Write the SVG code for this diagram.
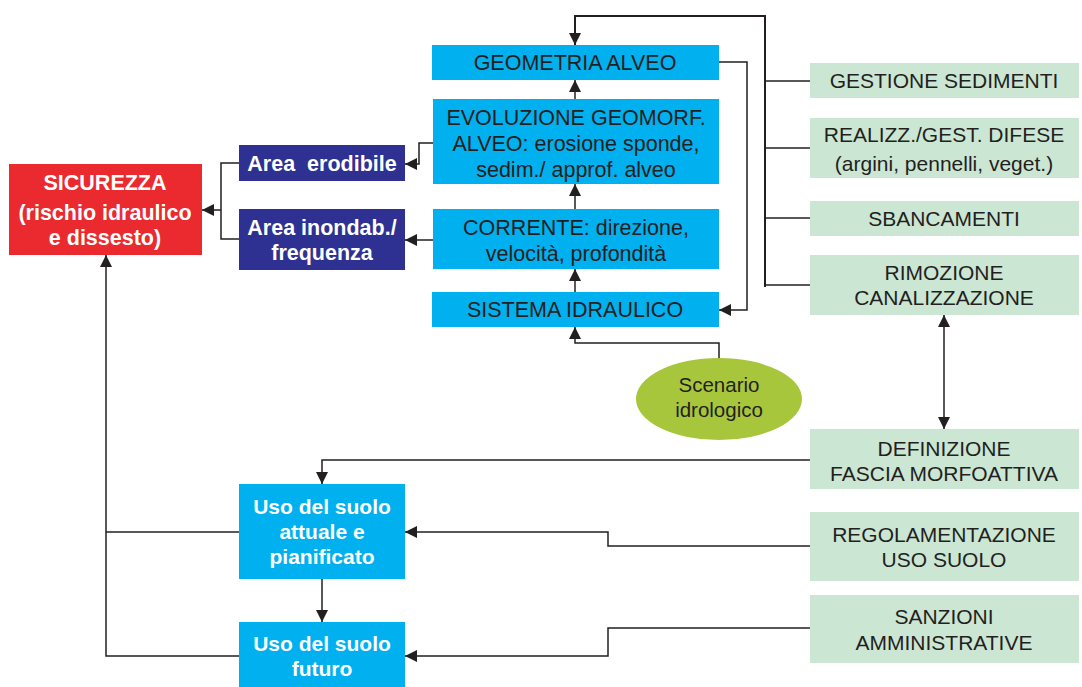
<svg xmlns="http://www.w3.org/2000/svg" width="1082" height="687" viewBox="0 0 1082 687">
<style>
.cy{fill:#00b0ef}
.db{fill:#2e3192}
.gr{fill:#cce6d4}
.tx{font-family:"Liberation Sans",Arial,sans-serif;fill:#231f20;text-anchor:middle}
.t20{font-size:21.5px}
.t19{font-size:21px}
.sc{font-size:20.5px}
.wb{font-family:"Liberation Sans",Arial,sans-serif;fill:#ffffff;font-weight:bold;text-anchor:middle;font-size:21.5px}
.wn{font-family:"Liberation Sans Narrow","Liberation Sans",Arial,sans-serif;fill:#ffffff;font-weight:bold;text-anchor:middle;font-size:21px}
.ln{fill:none;stroke:#231f20;stroke-width:1.5}
.lt{fill:none;stroke:#231f20;stroke-width:2}
</style>
<defs>
<marker id="ah" viewBox="0 0 10 10" refX="10" refY="5" markerWidth="12" markerHeight="12" markerUnits="userSpaceOnUse" orient="auto-start-reverse">
<path d="M0,0 L10,5 L0,10 z" fill="#231f20"/>
</marker>
</defs>

<g id="connectors">
<path class="lt" d="M765,287 L765,16 L575,16 L575,45" marker-end="url(#ah)"/>
<path class="ln" d="M765,81 L810,81"/>
<path class="ln" d="M765,148 L810,148"/>
<path class="ln" d="M765,218 L810,218"/>
<path class="ln" d="M765,285 L810,285"/>
<path class="ln" d="M719,62 L747,62 L747,310 L719,310" marker-end="url(#ah)"/>
<path class="ln" d="M575,99 L575,80" marker-end="url(#ah)"/>
<path class="ln" d="M575,209 L575,184" marker-end="url(#ah)"/>
<path class="ln" d="M575,292 L575,269" marker-end="url(#ah)"/>
<path class="ln" d="M719,359 L719,343 L575,343 L575,327" marker-end="url(#ah)"/>
<path class="ln" d="M433,143 L419,143 L419,164 L405,164" marker-end="url(#ah)"/>
<path class="ln" d="M433,240 L405,240" marker-end="url(#ah)"/>
<path class="ln" d="M239,163 L221,163 L221,239 L239,239"/>
<path class="ln" d="M221,210 L202,210" marker-end="url(#ah)"/>
<path class="ln" d="M944,429 L944,315" marker-start="url(#ah)" marker-end="url(#ah)"/>
<path class="ln" d="M810,460 L322,460 L322,484" marker-end="url(#ah)"/>
<path class="ln" d="M810,546 L608,546 L608,532 L405,532" marker-end="url(#ah)"/>
<path class="ln" d="M810,628 L608,628 L608,656 L405,656" marker-end="url(#ah)"/>
<path class="ln" d="M322,579 L322,622" marker-end="url(#ah)"/>
<path class="ln" d="M239,532 L106,532"/>
<path class="ln" d="M239,656 L106,656 L106,255" marker-end="url(#ah)"/>
</g>

<g id="geometria">
<rect class="cy" x="432" y="45" width="287" height="35"/>
<text class="tx t20" x="575" y="70">GEOMETRIA ALVEO</text>
</g>
<g id="evoluzione">
<rect class="cy" x="433" y="99" width="286" height="85"/>
<text class="tx t20" x="576" y="125">EVOLUZIONE GEOMORF.</text>
<text class="tx t20" x="576" y="151">ALVEO: erosione sponde,</text>
<text class="tx t20" x="576" y="177">sedim./ approf. alveo</text>
</g>
<g id="corrente">
<rect class="cy" x="433" y="209" width="286" height="60"/>
<text class="tx t20" x="576" y="235">CORRENTE: direzione,</text>
<text class="tx t20" x="576" y="261">velocità, profondità</text>
</g>
<g id="sistema">
<rect class="cy" x="432" y="292" width="287" height="35"/>
<text class="tx t20" x="575" y="317">SISTEMA IDRAULICO</text>
</g>
<g id="scenario">
<ellipse cx="719" cy="399" rx="83" ry="41" fill="#a8c63c"/>
<text class="tx sc" x="719" y="392">Scenario</text>
<text class="tx sc" x="719" y="417">idrologico</text>
</g>

<g id="gestione">
<rect class="gr" x="810" y="63" width="269" height="35"/>
<text class="tx t19" x="944" y="88">GESTIONE SEDIMENTI</text>
</g>
<g id="realizz">
<rect class="gr" x="810" y="118" width="269" height="60"/>
<text class="tx t19" x="944" y="142">REALIZZ./GEST. DIFESE</text>
<text class="tx t19" x="944" y="171">(argini, pennelli, veget.)</text>
</g>
<g id="sbancamenti">
<rect class="gr" x="810" y="201" width="269" height="35"/>
<text class="tx t19" x="944" y="226">SBANCAMENTI</text>
</g>
<g id="rimozione">
<rect class="gr" x="810" y="255" width="269" height="60"/>
<text class="tx t19" x="944" y="280">RIMOZIONE</text>
<text class="tx t19" x="944" y="305">CANALIZZAZIONE</text>
</g>
<g id="definizione">
<rect class="gr" x="810" y="429" width="269" height="60"/>
<text class="tx t19" x="944" y="456">DEFINIZIONE</text>
<text class="tx t19" x="944" y="481">FASCIA MORFOATTIVA</text>
</g>
<g id="regolamentazione">
<rect class="gr" x="810" y="512" width="269" height="69"/>
<text class="tx t19" x="944" y="542">REGOLAMENTAZIONE</text>
<text class="tx t19" x="944" y="567">USO SUOLO</text>
</g>
<g id="sanzioni">
<rect class="gr" x="810" y="595" width="269" height="68"/>
<text class="tx t19" x="944" y="624">SANZIONI</text>
<text class="tx t19" x="944" y="650">AMMINISTRATIVE</text>
</g>

<g id="sicurezza">
<rect x="9" y="164" width="193" height="91" fill="#ea2a2f"/>
<text class="wb" x="105" y="190">SICUREZZA</text>
<text class="wb" x="105" y="220">(rischio idraulico</text>
<text class="wb" x="105" y="245">e dissesto)</text>
</g>
<g id="area-erodibile">
<rect class="db" x="239" y="145" width="166" height="36"/>
<text class="wb" x="322" y="171" xml:space="preserve">Area  erodibile</text>
</g>
<g id="area-inondab">
<rect class="db" x="239" y="209" width="166" height="61"/>
<text class="wb" x="322" y="235">Area inondab./</text>
<text class="wb" x="322" y="260">frequenza</text>
</g>
<g id="uso-attuale">
<rect class="cy" x="239" y="484" width="166" height="95"/>
<text class="wn" x="322" y="514">Uso del suolo</text>
<text class="wn" x="322" y="539">attuale e</text>
<text class="wn" x="322" y="564">pianificato</text>
</g>
<g id="uso-futuro">
<rect class="cy" x="239" y="622" width="166" height="65"/>
<text class="wn" x="322" y="651">Uso del suolo</text>
<text class="wn" x="322" y="676">futuro</text>
</g>
</svg>
